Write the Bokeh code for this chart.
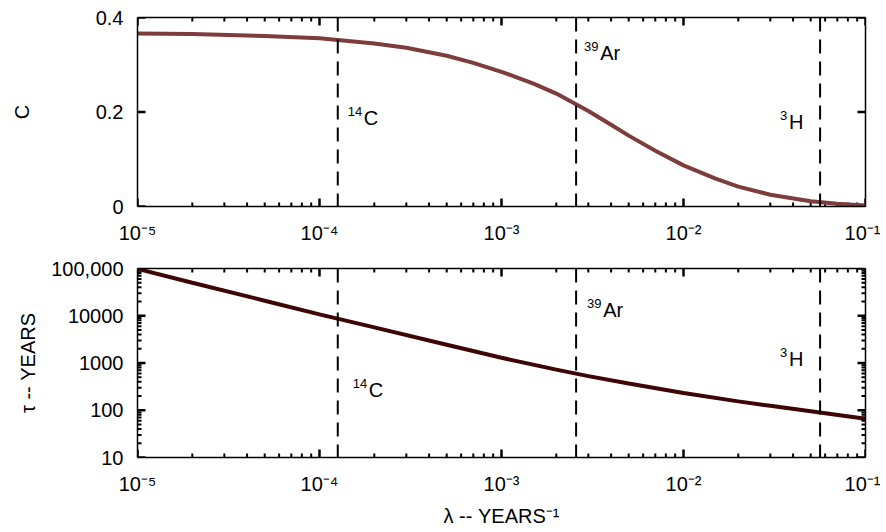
import math
from bokeh.plotting import figure
from bokeh.layouts import column
from bokeh.models import (LogAxis, LinearAxis, FixedTicker, CustomJSTickFormatter,
                          ColumnDataSource, Range1d, Span, LogScale, LinearScale)
from bokeh.embed import file_html
from bokeh.resources import INLINE
from bokeh.core.properties import value

FONT = "Liberation Sans"

# ---------------- data ----------------
# top panel: C vs lambda
lam_c = [1e-5, 2e-5, 5e-5, 1e-4, 2e-4, 3e-4, 5e-4, 7e-4, 1e-3, 1.5e-3, 2e-3, 3e-3,
         4e-3, 5e-3, 7e-3, 1e-2, 1.5e-2, 2e-2, 3e-2, 5e-2, 7e-2, 1e-1]
c_vals = [0.366, 0.365, 0.361, 0.356, 0.345, 0.336, 0.319, 0.304, 0.285, 0.260, 0.239, 0.202,
          0.173, 0.150, 0.118, 0.087, 0.059, 0.042, 0.025, 0.011, 0.006, 0.002]

# bottom panel: tau vs lambda
lam_t = [1e-5, 2e-5, 5e-5, 1e-4, 2e-4, 5e-4, 1e-3, 2e-3, 3e-3, 5e-3, 1e-2, 2e-2, 3e-2, 5e-2, 1e-1]
tau_vals = [98000, 50000, 20800, 10700, 5660, 2440, 1290, 724, 527, 368, 231, 154, 124, 95, 66]

# isotopes (decay constants, per year)
iso_mass = ["14", "39", "3"]
iso_elem = ["C", "Ar", "H"]
iso_lambda = [1.26e-4, 2.57e-3, 5.63e-2]
iso_label_c = [0.188, 0.325, 0.178]        # label height in top panel (C units)
iso_label_tau = [262, 13500, 1210]         # label height in bottom panel (years)

# ticks
x_major = [1e-5, 1e-4, 1e-3, 1e-2, 1e-1]
x_minor = [m * 10.0 ** e for e in range(-5, -1) for m in range(2, 10)]
c_ticks = [0, 0.2, 0.4]
tau_major = [10, 100, 1000, 10000, 100000]
tau_minor = [m * 10.0 ** e for e in range(1, 5) for m in range(2, 10)]
tau_labels = {10: "10", 100: "100", 1000: "1000", 10000: "10000", 100000: "100,000"}

# ---------------- layout constants ----------------
W = 880
LEFT, RIGHT = 137, 15
FRAME_H = 189
dx_top = [10, 8, -40]
dx_bot = [15, 11, -40]
MAJOR_LEN, MINOR_LEN = 8, 4

TOP_COLOR = "#7d3d3d"
BOT_COLOR = "#3d0505"

SUP = {"-": "\u207b", "0": "\u2070", "1": "\u00b9", "2": "\u00b2", "3": "\u00b3",
       "4": "\u2074", "5": "\u2075", "6": "\u2076", "7": "\u2077", "8": "\u2078", "9": "\u2079"}
x_fmt = CustomJSTickFormatter(args=dict(sup=SUP), code="""
const e = Math.round(Math.log10(tick));
return "10" + String(e).split('').map(c => sup[c]).join('');
""")
blank_fmt = CustomJSTickFormatter(code="return ' ';")


def style_axis(ax, labels=True):
    ax.axis_line_color = "black"
    ax.axis_line_width = 1.5
    ax.major_tick_in = 0
    ax.major_tick_out = 0
    ax.minor_tick_in = 0
    ax.minor_tick_out = 0
    ax.major_label_text_font = FONT
    ax.major_label_text_color = "black"
    ax.axis_label_text_font = FONT
    ax.axis_label_text_font_style = "normal"
    ax.axis_label_text_color = "black"
    ax.axis_label_text_font_size = "20px"
    ax.major_label_text_font_size = "20px"
    if not labels:
        ax.formatter = blank_fmt
        ax.major_label_text_font_size = "2px"
        ax.major_label_standoff = 0


def make_fig(height, top, bottom, y_scale, y_range):
    p = figure(width=W, height=height, x_axis_type=None, y_axis_type=None,
               x_range=Range1d(1e-5, 1e-1), y_range=y_range,
               output_backend="svg", toolbar_location=None,
               min_border_left=LEFT, min_border_right=RIGHT,
               min_border_top=top, min_border_bottom=bottom)
    p.x_scale = LogScale()
    p.y_scale = y_scale
    p.xgrid.visible = False
    p.ygrid.visible = False
    p.outline_line_color = None
    return p


def add_x_axes(p, **kw):
    xb = LogAxis(ticker=FixedTicker(ticks=x_major, minor_ticks=x_minor), formatter=x_fmt, **kw)
    style_axis(xb)
    xb.major_label_standoff = 15
    p.add_layout(xb, "below")
    xa = LogAxis(ticker=FixedTicker(ticks=x_major, minor_ticks=x_minor))
    style_axis(xa, labels=False)
    p.add_layout(xa, "above")
    return xb


def inward_ticks(p, ymaj, ymin):
    """Tick marks pointing into the frame: dash markers centred on the frame edge,
    the outer half being clipped away by the frame."""
    xr, yr = p.x_range, p.y_range
    for yedge in (yr.start, yr.end):
        p.scatter(x=x_major, y=[yedge] * len(x_major), marker="dash", angle=math.pi / 2,
                  size=2 * MAJOR_LEN, line_color="black", line_width=2.5)
        p.scatter(x=x_minor, y=[yedge] * len(x_minor), marker="dash", angle=math.pi / 2,
                  size=2 * MINOR_LEN, line_color="black", line_width=2)
    for xedge in (xr.start, xr.end):
        p.scatter(x=[xedge] * len(ymaj), y=ymaj, marker="dash",
                  size=2 * MAJOR_LEN, line_color="black", line_width=2.5)
        if ymin:
            p.scatter(x=[xedge] * len(ymin), y=ymin, marker="dash",
                      size=2 * MINOR_LEN, line_color="black", line_width=2)


def add_iso(p, ys, dxs):
    sup_dx = list(dxs)
    el_dx = [d + 7.3 * len(m) + 1.5 for d, m in zip(dxs, iso_mass)]
    src = ColumnDataSource(dict(x=iso_lambda, y=ys, sup=iso_mass, el=iso_elem,
                                sdx=sup_dx, edx=el_dx))
    p.text(x="x", y="y", text="el", x_offset="edx", source=src,
           text_font=value(FONT), text_font_size="20px", text_baseline="middle",
           text_color="black")
    p.text(x="x", y="y", text="sup", x_offset="sdx", y_offset=-6.5, source=src,
           text_font=value(FONT), text_font_size="13px", text_baseline="middle",
           text_color="black")
    for lam in iso_lambda:
        p.add_layout(Span(location=lam, dimension="height", line_color="black",
                          line_width=2, line_dash="14 8"))


# ---------------- top panel ----------------
H1 = 248
p1 = make_fig(H1, 17, H1 - 17 - FRAME_H, LinearScale(), Range1d(0, 0.4))
add_x_axes(p1)
c_fmt = CustomJSTickFormatter(code="return tick == 0 ? '0' : tick.toFixed(1);")
yl = LinearAxis(ticker=FixedTicker(ticks=c_ticks), formatter=c_fmt, axis_label="C")
style_axis(yl)
yl.major_label_standoff = 14
yl.axis_label_standoff = 60
p1.add_layout(yl, "left")
yr = LinearAxis(ticker=FixedTicker(ticks=c_ticks))
style_axis(yr, labels=False)
p1.add_layout(yr, "right")
inward_ticks(p1, c_ticks, [])
add_iso(p1, iso_label_c, dx_top)
p1.line(lam_c, c_vals, line_color=TOP_COLOR, line_width=4)

# ---------------- bottom panel ----------------
H2 = 531 - H1
T2 = 20
p2 = make_fig(H2, T2, H2 - T2 - FRAME_H, LogScale(), Range1d(10, 100000))
xb2 = add_x_axes(p2, axis_label="λ -- YEARS⁻¹")
xb2.axis_label_standoff = 7
tau_fmt = CustomJSTickFormatter(args=dict(lab={str(k): v for k, v in tau_labels.items()}),
                                code="return lab[String(Math.round(tick))] || '';")
yl2 = LogAxis(ticker=FixedTicker(ticks=tau_major, minor_ticks=tau_minor),
              formatter=tau_fmt, axis_label="τ -- YEARS")
style_axis(yl2)
yl2.major_label_standoff = 14
yl2.axis_label_standoff = 9
p2.add_layout(yl2, "left")
yr2 = LogAxis(ticker=FixedTicker(ticks=tau_major, minor_ticks=tau_minor))
style_axis(yr2, labels=False)
p2.add_layout(yr2, "right")
inward_ticks(p2, tau_major, tau_minor)
add_iso(p2, iso_label_tau, dx_bot)
p2.line(lam_t, tau_vals, line_color=BOT_COLOR, line_width=4)

layout = column(p1, p2, spacing=0)
open("out.html", "w").write(file_html(layout, INLINE))
